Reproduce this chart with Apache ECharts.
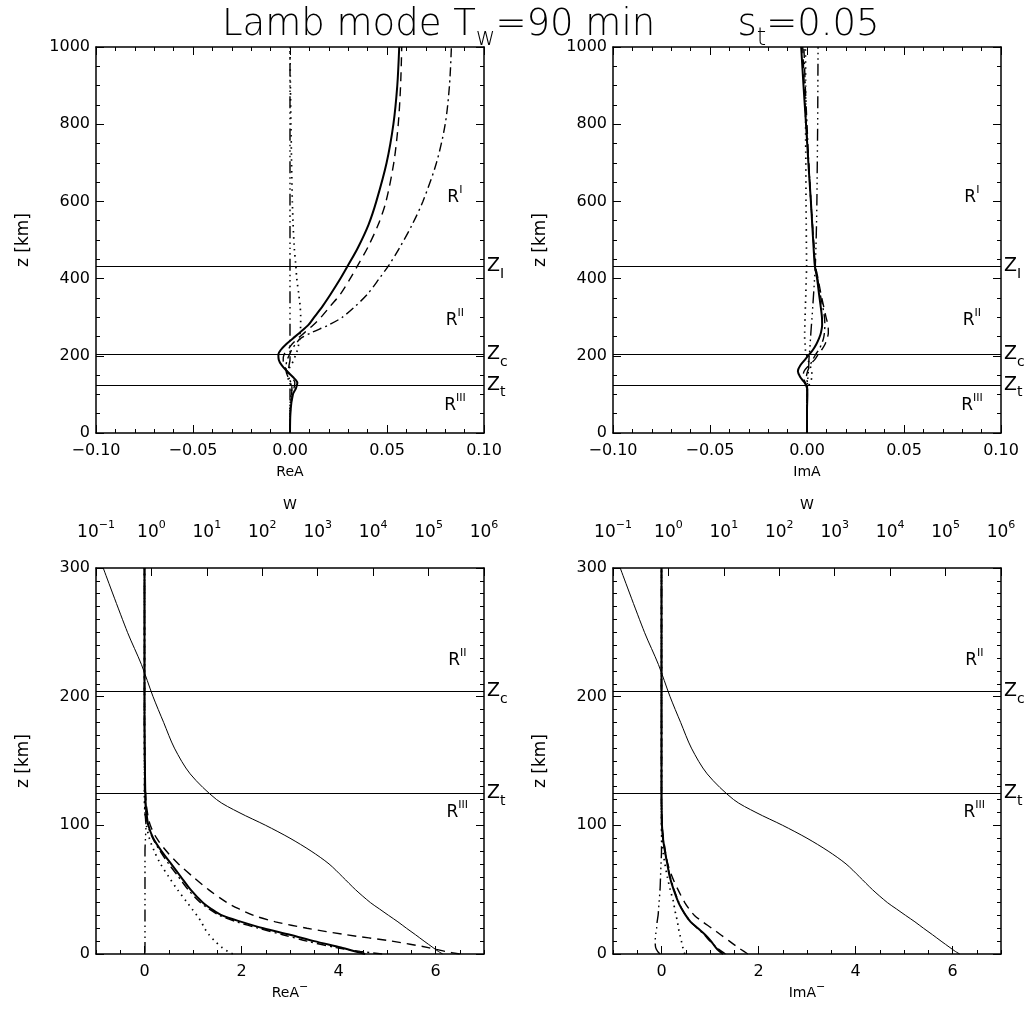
<!DOCTYPE html>
<html><head><meta charset="utf-8">
<script src="https://cdn.jsdelivr.net/npm/echarts@6/dist/echarts.min.js"></script>
<style>html,body{margin:0;padding:0;background:#fff}#c{width:1033px;height:1015px}</style>
</head><body><div id="c"></div>
<script>
// ---------- data ----------
const zTop = [0, 60, 100, 115, 130, 145, 160, 175, 190, 204, 215, 230, 245, 260, 280, 300, 330, 360, 400, 435, 480, 540, 600, 700, 800, 900, 1000];
const reA_solid   = [0, 0.0003, 0.0015, 0.003, 0.0038, 0.0015, -0.0015, -0.0042, -0.0058, -0.006, -0.0048, -0.002, 0.0015, 0.005, 0.0095, 0.0125, 0.017, 0.021, 0.026, 0.030, 0.035, 0.0405, 0.0445, 0.0498, 0.0533, 0.0553, 0.0563];
const reA_dashed  = [0, 0.0003, 0.0012, 0.002, 0.0025, 0.0008, -0.0015, -0.003, -0.0035, -0.003, -0.0012, 0.001, 0.004, 0.0075, 0.012, 0.016, 0.021, 0.026, 0.031, 0.035, 0.040, 0.0455, 0.0495, 0.0535, 0.0558, 0.0570, 0.0576];
const reA_dashdot = [0, 0.0002, 0.0008, 0.001, 0.0005, -0.001, -0.002, -0.002, -0.0014, -0.0002, 0.0008, 0.0028, 0.0055, 0.011, 0.02, 0.027, 0.034, 0.040, 0.046, 0.051, 0.0565, 0.063, 0.0685, 0.0755, 0.080, 0.0822, 0.0832];
const reA_dotted  = [0, 0, 0.0005, 0.0008, 0.0002, -0.0012, -0.0012, 0.0005, 0.002, 0.003, 0.0038, 0.0045, 0.005, 0.0052, 0.0055, 0.0055, 0.0052, 0.0045, 0.0035, 0.003, 0.0022, 0.0016, 0.0012, 0.0008, 0.0005, 0.0002, 0];
const reA_dddot   = [0, 0, 0, 0, 0, -0.0005, -0.0008, -0.0005, 0, 0, 0, 0, 0, 0, 0, 0, 0, 0, 0, 0, 0, 0, 0, 0, 0, 0, 0];

const imA_solid   = [0, 0, 0.0002, 0.0001, -0.0012, -0.0035, -0.0047, -0.0035, -0.001, 0.0012, 0.003, 0.0048, 0.0062, 0.0072, 0.0078, 0.0077, 0.007, 0.0062, 0.0052, 0.004, 0.0034, 0.0027, 0.002, 0.0007, -0.0005, -0.0018, -0.003];
const imA_dashed  = [0, 0, 0.0001, 0.0001, -0.0008, -0.002, -0.0015, 0.001, 0.004, 0.0058, 0.0075, 0.0093, 0.0104, 0.011, 0.0108, 0.0098, 0.0085, 0.0072, 0.0057, 0.0043, 0.0036, 0.0028, 0.002, 0.0008, -0.0004, -0.0014, -0.0022];
const imA_dashdot = [0, 0, 0.0001, 0.0002, 0.0002, -0.0003, 0.0003, 0.0015, 0.003, 0.0045, 0.006, 0.0075, 0.0085, 0.009, 0.0092, 0.009, 0.008, 0.0068, 0.0055, 0.0043, 0.0036, 0.0028, 0.002, 0.0009, 0, -0.0009, -0.0016];
const imA_dotted  = [0, 0, 0, 0.0003, 0.0015, 0.0025, 0.0025, 0.0015, 0.0005, -0.0003, -0.0008, -0.001, -0.0012, -0.0012, -0.0011, -0.001, -0.0008, -0.0006, -0.0004, -0.0002, -0.0003, -0.0004, -0.0005, -0.0006, -0.0007, -0.0007, -0.0008];
const imA_dddot   = [0, 0, 0, 0, 0.0002, 0.0005, 0.0007, 0.0009, 0.001, 0.0012, 0.0014, 0.0016, 0.0018, 0.002, 0.0023, 0.0026, 0.003, 0.0034, 0.0039, 0.0043, 0.0046, 0.0049, 0.0051, 0.0053, 0.0055, 0.0056, 0.0057];

const zBot = [0, 2, 5, 10, 15, 20, 25, 30, 35, 40, 50, 60, 70, 80, 90, 100, 110, 120, 140, 160, 180, 200, 225, 250, 300];
const reM_solid   = [4.55, 4.35, 4.05, 3.5, 3.0, 2.45, 2.0, 1.6, 1.38, 1.2, 0.95, 0.75, 0.55, 0.35, 0.18, 0.08, 0.04, 0.02, 0.01, 0.005, 0, 0, 0, 0, 0];
const reM_dashed  = [6.5, 6.2, 5.85, 5.1, 4.15, 3.35, 2.7, 2.25, 1.95, 1.7, 1.32, 1.0, 0.7, 0.45, 0.25, 0.12, 0.06, 0.03, 0.01, 0.005, 0, 0, 0, 0, 0];
const reM_dashdot = [4.9, 4.45, 3.95, 3.35, 2.85, 2.35, 1.9, 1.55, 1.33, 1.15, 0.9, 0.7, 0.5, 0.32, 0.17, 0.07, 0.03, 0.015, 0.005, 0, 0, 0, 0, 0, 0];
const reM_dotted  = [1.82, 1.72, 1.6, 1.45, 1.33, 1.24, 1.17, 1.08, 0.98, 0.88, 0.68, 0.5, 0.33, 0.2, 0.1, 0.04, 0.01, 0, 0, 0, 0, 0, 0, 0, 0];
const reM_dddot   = [0, 0.01, 0.01, 0.01, 0.01, 0.01, 0.01, 0.01, 0.01, 0.01, 0.01, 0.01, 0.01, 0.01, 0.02, 0.03, 0.01, 0, 0, 0, 0, 0, 0, 0, 0];
const imM_solid   = [1.27, 1.2, 1.12, 1.02, 0.9, 0.75, 0.6, 0.5, 0.42, 0.35, 0.25, 0.17, 0.12, 0.07, 0.03, 0.01, 0.005, 0, 0, 0, 0, 0, 0, 0, 0];
const imM_dashed  = [1.78, 1.7, 1.58, 1.4, 1.22, 1.04, 0.85, 0.68, 0.57, 0.48, 0.34, 0.22, 0.13, 0.08, 0.04, 0.015, 0.005, 0, 0, 0, 0, 0, 0, 0, 0];
const imM_dashdot = [1.32, 1.24, 1.14, 1.0, 0.88, 0.74, 0.6, 0.5, 0.42, 0.36, 0.26, 0.18, 0.12, 0.07, 0.03, 0.01, 0, 0, 0, 0, 0, 0, 0, 0, 0];
const imM_dotted  = [0.48, 0.46, 0.44, 0.41, 0.38, 0.35, 0.33, 0.3, 0.27, 0.25, 0.18, 0.12, 0.07, 0.03, 0.01, 0, 0, 0, 0, 0, 0, 0, 0, 0, 0];
const imM_dddot   = [-0.03, -0.08, -0.12, -0.13, -0.12, -0.1, -0.09, -0.07, -0.06, -0.05, -0.03, -0.02, -0.01, 0, 0, 0, 0, 0, 0, 0, 0, 0, 0, 0, 0];
const wProfile    = [1.8e5, 1.5e5, 1.2e5, 8.3e4, 5.8e4, 4.0e4, 2.8e4, 1.9e4, 1.3e4, 8.9e3, 4.8e3, 2.8e3, 1.6e3, 760, 316, 115, 38, 15, 5.0, 2.6, 1.66, 1.07, 0.66, 0.37, 0.135];

const zI = 432, zC = 204, zT = 125;
const topRegionNames = ['I', 'II', 'III'];
const topRegionZ = [610, 290, 70];
const topRegionX = 0.085;
const botRegionNames = ['II', 'III'];
const botRegionZ = [228, 110];
const botRegionX = 6.45;

// ---------- styles ----------
const FONT = "'DejaVu Sans', sans-serif";
const STY = {
  solid:   { type: 'solid', width: 2 },
  dashed:  { type: [9, 6], width: 1.4 },
  dashdot: { type: [9, 4, 2, 4], width: 1.4 },
  dotted:  { type: [1.5, 4.5], width: 1.7 },
  dddot:   { type: [12, 4, 1.5, 4, 1.5, 4, 1.5, 4], width: 1.4 }
};
const supRich = {
  m: { fontSize: 17, lineHeight: 26, fontFamily: FONT, color: '#000', fontWeight: 'normal' },
  sup: { fontSize: 11, verticalAlign: 'top', fontFamily: FONT, color: '#000', fontWeight: 'normal' }
};
const subRich = {
  m: { fontSize: 19, lineHeight: 30, fontFamily: FONT, color: '#000' },
  sub: { fontSize: 14, verticalAlign: 'bottom', fontFamily: FONT, color: '#000' }
};

function pairs(xs, zs) { return xs.map((x, i) => [x, zs[i]]); }

const panels = [
  { left: 96, top: 47 }, { left: 613, top: 47 }, { left: 96, top: 568 }, { left: 613, top: 568 }
];
const PW = 388, PH = 386;

function valAxis(o) {
  return Object.assign({
    type: 'value',
    axisLine: { show: true, onZero: false, lineStyle: { color: '#000', width: 1.5 } },
    axisTick: { show: true, inside: true, length: 8, lineStyle: { color: '#000', width: 1 } },
    minorTick: { show: false },
    splitLine: { show: false },
    minorSplitLine: { show: false },
    axisLabel: { show: false, color: '#000', fontFamily: FONT, fontSize: 16 }
  }, o);
}
function fmtTop(v) { return (v < 0 ? '−' : '') + Math.abs(v).toFixed(2); }
function fmtInt(v) { return String(v); }

const xAxis = [];
const yAxis = [];
// top panels
[0, 1].forEach(g => {
  const nm = g === 0 ? 'ReA' : 'ImA';
  xAxis.push(valAxis({ gridIndex: g, min: -0.1, max: 0.1, interval: 0.05, position: 'bottom',
    minorTick: { show: true, splitNumber: 5, length: 4, lineStyle: { color: '#000' } },
    axisLabel: { show: true, color: '#000', fontFamily: FONT, fontSize: 16, margin: 10, formatter: fmtTop },
    name: nm, nameLocation: 'middle', nameGap: 32, nameTextStyle: { fontFamily: FONT, fontSize: 14, color: '#000' } }));
  xAxis.push(valAxis({ gridIndex: g, min: -0.1, max: 0.1, interval: 0.05, position: 'top',
    minorTick: { show: true, splitNumber: 5, length: 4, lineStyle: { color: '#000' } } }));
  yAxis.push(valAxis({ gridIndex: g, min: 0, max: 1000, interval: 200, position: 'left',
    minorTick: { show: true, splitNumber: 4, length: 4, lineStyle: { color: '#000' } },
    axisLabel: { show: true, color: '#000', fontFamily: FONT, fontSize: 16, margin: 6, formatter: fmtInt },
    name: 'z [km]', nameLocation: 'middle', nameGap: 64, nameRotate: 90,
    nameTextStyle: { fontFamily: FONT, fontSize: 17, color: '#000' } }));
  yAxis.push(valAxis({ gridIndex: g, min: 0, max: 1000, interval: 200, position: 'right',
    minorTick: { show: true, splitNumber: 4, length: 4, lineStyle: { color: '#000' } } }));
});
// bottom panels
[2, 3].forEach(g => {
  const nm = g === 2 ? '{m|ReA}{sup|−}' : '{m|ImA}{sup|−}';
  xAxis.push(valAxis({ gridIndex: g, min: -1, max: 7, interval: 0.5, position: 'bottom',
    axisTick: { show: true, inside: true, length: 4, lineStyle: { color: '#000' } },
    axisLabel: { show: true, color: '#000', fontFamily: FONT, fontSize: 16, margin: 10, customValues: [0, 2, 4, 6], formatter: fmtInt },
    name: nm, nameLocation: 'middle', nameGap: 28,
    nameTextStyle: { rich: { m: { fontSize: 14, lineHeight: 22, fontFamily: FONT, color: '#000' }, sup: { fontSize: 11, verticalAlign: 'top', fontFamily: FONT, color: '#000' } } } }));
  xAxis.push(valAxis({ gridIndex: g, min: -1, max: 7, interval: 0.5, position: 'bottom',
    axisLine: { show: false, onZero: false },
    axisTick: { show: true, inside: true, length: 8, customValues: [0, 2, 4, 6], lineStyle: { color: '#000' } } }));
  xAxis.push({ type: 'log', gridIndex: g, logBase: 10, min: 0.1, max: 1e6, position: 'top', splitNumber: 7,
    axisLine: { show: true, onZero: false, lineStyle: { color: '#000', width: 1.5 } },
    axisTick: { show: true, inside: true, length: 8, lineStyle: { color: '#000' } },
    minorTick: { show: false }, splitLine: { show: false },
    axisLabel: { show: true, margin: 22, formatter: v => {
        const e = Math.round(Math.log10(v));
        return '{m|10}{sup|' + (e < 0 ? '−' : '') + Math.abs(e) + '}';
      }, rich: supRich },
    name: 'W', nameLocation: 'middle', nameGap: 56,
    nameTextStyle: { fontFamily: FONT, fontSize: 14, color: '#000' } });
  yAxis.push(valAxis({ gridIndex: g, min: 0, max: 300, interval: 100, position: 'left',
    minorTick: { show: true, splitNumber: 10, length: 4, lineStyle: { color: '#000' } },
    axisLabel: { show: true, color: '#000', fontFamily: FONT, fontSize: 16, margin: 6, formatter: fmtInt },
    name: 'z [km]', nameLocation: 'middle', nameGap: 64, nameRotate: 90,
    nameTextStyle: { fontFamily: FONT, fontSize: 17, color: '#000' } }));
  yAxis.push(valAxis({ gridIndex: g, min: 0, max: 300, interval: 100, position: 'right',
    minorTick: { show: true, splitNumber: 10, length: 4, lineStyle: { color: '#000' } } }));
});

function curve(xi, yi, xs, zs, sty, extra) {
  return Object.assign({
    type: 'line', xAxisIndex: xi, yAxisIndex: yi, data: pairs(xs, zs),
    symbol: 'none', showSymbol: false, smooth: 0.3, silent: true, animation: false, clip: true,
    lineStyle: Object.assign({ color: '#000' }, sty)
  }, extra || {});
}
function zLines(list) {
  return {
    silent: true, symbol: ['none', 'none'], animation: false,
    lineStyle: { color: '#000', width: 1, type: 'solid' },
    label: { show: true, position: 'end', distance: 3, rich: subRich },
    data: list.map(d => ({ yAxis: d[0], label: { formatter: '{m|Z}{sub|' + d[1] + '}' } }))
  };
}
function regions(xi, yi, x, zs, names) {
  return {
    type: 'scatter', xAxisIndex: xi, yAxisIndex: yi, silent: true, animation: false,
    symbolSize: 1, itemStyle: { color: 'transparent', opacity: 1 },
    data: zs.map((z, i) => ({ value: [x, z], name: names[i] })),
    label: { show: true, position: 'inside', color: '#000', opacity: 1, textBorderWidth: 0,
      formatter: p => '{m|R}{sup|' + p.name + '}', rich: supRich }
  };
}

const series = [
  // top-left ReA
  curve(0, 0, reA_solid, zTop, STY.solid, { markLine: zLines([[zI, 'I'], [zC, 'c'], [zT, 't']]) }),
  curve(0, 0, reA_dashed, zTop, STY.dashed),
  curve(0, 0, reA_dashdot, zTop, STY.dashdot),
  curve(0, 0, reA_dotted, zTop, STY.dotted),
  curve(0, 0, reA_dddot, zTop, STY.dddot),
  regions(0, 0, topRegionX, topRegionZ, topRegionNames),
  // top-right ImA
  curve(2, 2, imA_solid, zTop, STY.solid, { markLine: zLines([[zI, 'I'], [zC, 'c'], [zT, 't']]) }),
  curve(2, 2, imA_dashed, zTop, STY.dashed),
  curve(2, 2, imA_dashdot, zTop, STY.dashdot),
  curve(2, 2, imA_dotted, zTop, STY.dotted),
  curve(2, 2, imA_dddot, zTop, STY.dddot),
  regions(2, 2, topRegionX, topRegionZ, topRegionNames),
  // bottom-left ReA-
  curve(4, 4, reM_solid, zBot, STY.solid, { markLine: zLines([[zC, 'c'], [zT, 't']]) }),
  curve(4, 4, reM_dashed, zBot, STY.dashed),
  curve(4, 4, reM_dashdot, zBot, STY.dashdot),
  curve(4, 4, reM_dotted, zBot, STY.dotted),
  curve(4, 4, reM_dddot, zBot, STY.dddot),
  curve(6, 4, wProfile, zBot, { type: 'solid', width: 1 }),
  regions(4, 4, botRegionX, botRegionZ, botRegionNames),
  // bottom-right ImA-
  curve(7, 6, imM_solid, zBot, STY.solid, { markLine: zLines([[zC, 'c'], [zT, 't']]) }),
  curve(7, 6, imM_dashed, zBot, STY.dashed),
  curve(7, 6, imM_dashdot, zBot, STY.dashdot),
  curve(7, 6, imM_dotted, zBot, STY.dotted),
  curve(7, 6, imM_dddot, zBot, STY.dddot),
  curve(9, 6, wProfile, zBot, { type: 'solid', width: 1 }),
  regions(7, 6, botRegionX, botRegionZ, botRegionNames)
];

const option = {
  animation: false,
  backgroundColor: '#fff',
  textStyle: { fontFamily: FONT, color: '#000' },
  title: {
    left: 222, top: -1, padding: 0,
    text: '{m|Lamb mode T}{sub|w}{m|=90 min       s}{sub|t}{m|=0.05}',
    textStyle: { fontWeight: 'normal', rich: {
      m: { fontSize: 37, lineHeight: 52, fontFamily: FONT, color: '#000', fontWeight: 200 },
      sub: { fontSize: 24, verticalAlign: 'bottom', fontFamily: FONT, color: '#000', fontWeight: 200 }
    } }
  },
  grid: panels.map(p => ({ left: p.left, top: p.top, width: PW, height: PH, containLabel: false })),
  xAxis: xAxis,
  yAxis: yAxis,
  series: series
};

const chart = echarts.init(document.getElementById('c'), null, { renderer: 'canvas' });
chart.setOption(option);
</script></body></html>
